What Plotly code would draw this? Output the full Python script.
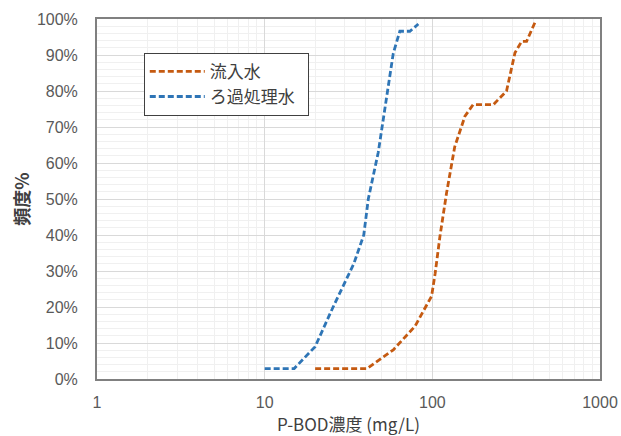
import plotly.graph_objects as go

# 流入水 (influent)
inf_x = [20, 40.8, 58.5, 78.7, 99, 104, 111, 121.6, 136, 156.5, 175, 231, 277, 290, 311, 341, 365, 409]
inf_y = [2.9, 2.9, 8.1, 14.6, 23, 29.4, 39.6, 51.7, 64.5, 73, 76.2, 76.2, 80, 84.5, 90.6, 93.8, 93.8, 99]

# ろ過処理水 (filtered)
fil_x = [10, 15, 20, 25.6, 34, 39, 41.5, 47.6, 58.5, 64, 73.5, 82.5]
fil_y = [2.9, 2.9, 9, 20, 32, 40, 50, 63, 90.5, 96.6, 96.6, 98.6]

names = ["流入水", "ろ過処理水"]
colors = ["#C55A11", "#2E75B6"]

x_ticks = [1, 10, 100, 1000]
x_ticktext = ["1", "10", "100", "1000"]

jp = "Noto Sans CJK JP"
lat = "Liberation Sans"

fig = go.Figure()
for xs, ys, nm, c in [(inf_x, inf_y, names[0], colors[0]), (fil_x, fil_y, names[1], colors[1])]:
    fig.add_trace(go.Scatter(x=xs, y=ys, mode="lines", name=nm + "\u00a0\u00a0",
                             line=dict(color=c, width=2.8, dash="6px,3px")))

fig.update_layout(
    width=621, height=436,
    margin=dict(l=97, r=21, t=19, b=57),
    paper_bgcolor="white", plot_bgcolor="white",
    showlegend=True,
    legend=dict(x=0.093, y=0.906, xanchor="left", yanchor="top",
                bordercolor="#404040", borderwidth=1, bgcolor="white",
                font=dict(family=jp, size=17, color="#404040"),
                itemwidth=55, tracegroupgap=0),
    font=dict(family=lat, size=16, color="#595959"),
)
fig.update_xaxes(
    type="log", range=[0, 3], automargin=False,
    tickmode="array", tickvals=x_ticks, ticktext=x_ticktext,
    showgrid=True, gridcolor="#d9d9d9", gridwidth=1,
    minor=dict(tickmode="array",
               tickvals=[m * 10 ** e for e in range(3) for m in range(2, 10)],
               showgrid=True, gridcolor="#f0f0f0", gridwidth=1, ticks=""),
    showline=True, linecolor="#808080", linewidth=2, mirror=True,
    ticks="", ticklabelstandoff=8,
    title=dict(text="P-BOD濃度 (mg/L)", font=dict(family=jp, size=17, color="#404040"), standoff=11),
    zeroline=False,
)
fig.update_yaxes(
    range=[0, 100], dtick=10, ticksuffix="%", automargin=False,
    showgrid=True, gridcolor="#d9d9d9", gridwidth=1,
    minor=dict(dtick=2, showgrid=True, gridcolor="#f0f0f0", gridwidth=1, ticks=""),
    showline=True, linecolor="#808080", linewidth=2, mirror=True,
    ticks="", zeroline=False, ticklabelstandoff=14,
    title=dict(text="<b>頻度%</b>", font=dict(family=jp, size=18, color="#404040"), standoff=3),
)
fig.write_html("out.html")
